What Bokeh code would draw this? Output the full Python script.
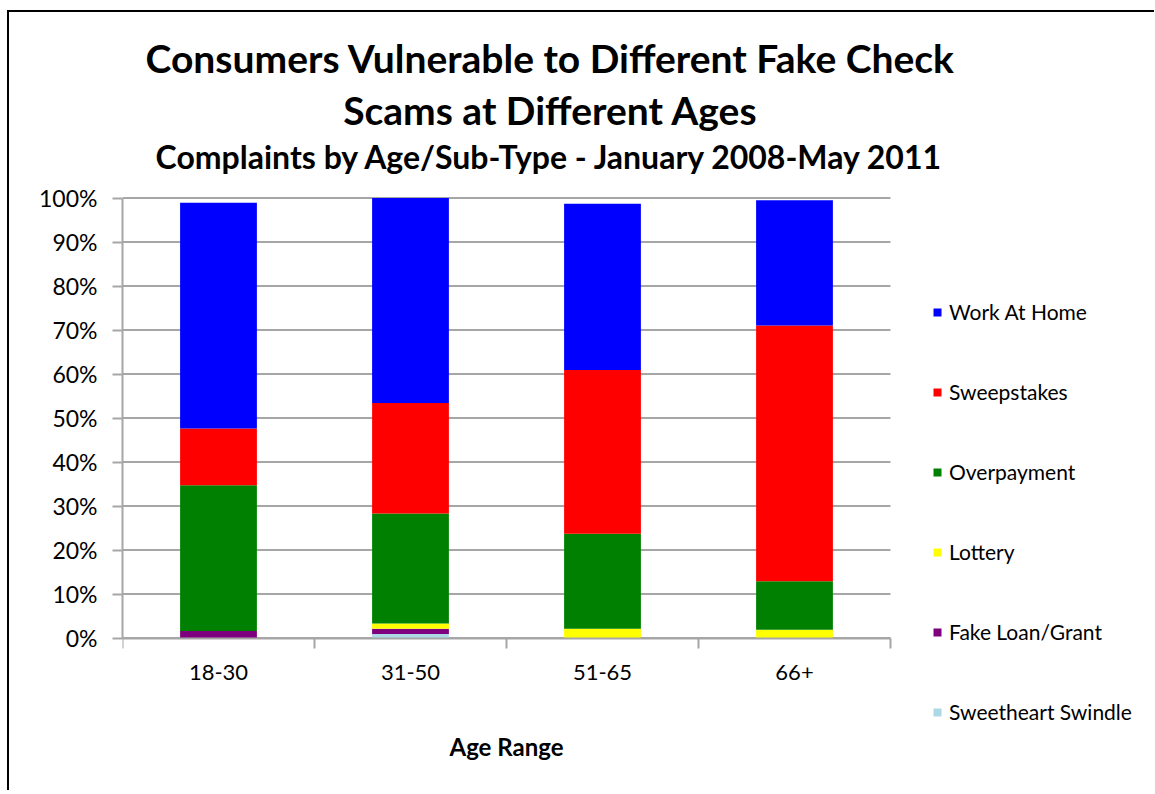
from bokeh.plotting import figure
from bokeh.models import Range1d, FixedTicker, Legend, LegendItem, Label, ColumnDataSource
from bokeh.embed import file_html
from bokeh.resources import INLINE

# ---- data ----
categories = ["18-30", "31-50", "51-65", "66+"]
series_names = ["Sweetheart Swindle", "Fake Loan/Grant", "Lottery",
                "Overpayment", "Sweepstakes", "Work At Home"]
sweetheart_swindle = [0.0, 0.9, 0.0, 0.0]
fake_loan_grant = [1.6, 1.2, 0.0, 0.0]
lottery = [0.0, 1.2, 2.1, 1.9]
overpayment = [33.1, 25.0, 21.6, 11.0]
sweepstakes = [12.9, 25.1, 37.2, 58.1]
work_at_home = [51.3, 46.6, 37.8, 28.5]
y_ticks = [0, 10, 20, 30, 40, 50, 60, 70, 80, 90, 100]
y_tick_labels = [f"{t}%" for t in y_ticks]

title_line1 = "Consumers Vulnerable to Different Fake Check"
title_line2 = "Scams at Different Ages"
subtitle = "Complaints by Age/Sub-Type - January 2008-May 2011"
x_label = "Age Range"

colors = ["#ADD8E6", "#7F007F", "#FFFF00", "#008000", "#FF0000", "#0000FF"]
FONT = "Lato"
grey = "#a6a6a6"

# ---- geometry (pixels) ----
PX_PER_CAT = 192.0      # width of one category slot
PX_PER_PCT = 4.4        # pixels per percentage point
FRAME_W, FRAME_H = 1018, 778
ZERO_FROM_TOP = 625.5   # 0% line measured from the frame top
n = len(categories)
x_end = FRAME_W / PX_PER_CAT
y_top = ZERO_FROM_TOP / PX_PER_PCT
y_bot = -(FRAME_H - ZERO_FROM_TOP) / PX_PER_PCT

keys = ["s0", "s1", "s2", "s3", "s4", "s5"]
x_pos = [i + 0.5 for i in range(n)]
source = ColumnDataSource(dict(
    x=x_pos,
    s0=sweetheart_swindle, s1=fake_loan_grant, s2=lottery,
    s3=overpayment, s4=sweepstakes, s5=work_at_home,
))

p = figure(frame_width=FRAME_W, frame_height=FRAME_H, title=None,
           output_backend="svg", toolbar_location=None,
           x_range=Range1d(0, x_end), y_range=Range1d(y_bot, y_top),
           min_border_left=113, min_border_right=14,
           min_border_top=0, min_border_bottom=0)
p.styles = {"margin-left": "7px", "margin-top": "10px",
            "border-left": "2px solid black", "border-top": "2px solid black"}
p.outline_line_color = None
p.background_fill_color = "white"
p.border_fill_color = "white"
p.xgrid.visible = False
p.ygrid.visible = False

# horizontal gridlines spanning the category area only
p.segment(x0=[0] * len(y_ticks), x1=[n] * len(y_ticks), y0=y_ticks, y1=y_ticks,
          line_color=grey, line_width=2)

renderers = p.vbar_stack(keys, x="x", width=0.4, source=source,
                         fill_color=colors, line_color=None)

# y axis
p.yaxis.bounds = (0, 100)
p.yaxis.ticker = FixedTicker(ticks=y_ticks)
p.yaxis.major_label_overrides = {t: l for t, l in zip(y_ticks, y_tick_labels)}
p.yaxis.axis_line_color = grey
p.yaxis.axis_line_width = 2
p.yaxis.major_tick_line_color = grey
p.yaxis.major_tick_line_width = 2
p.yaxis.major_tick_out = 10
p.yaxis.major_tick_in = 0
p.yaxis.minor_tick_line_color = None
p.yaxis.major_label_standoff = 15
p.yaxis.major_label_text_font = FONT
p.yaxis.major_label_text_font_size = "23px"
p.yaxis.major_label_text_color = "black"

# x axis drawn at 0%
p.xaxis.fixed_location = 0
p.xaxis.bounds = (0, n)
p.xaxis.ticker = FixedTicker(ticks=x_pos, minor_ticks=list(range(n + 1)))
p.xaxis.major_label_overrides = {x: c for x, c in zip(x_pos, categories)}
p.xaxis.axis_line_color = grey
p.xaxis.axis_line_width = 2
p.xaxis.major_tick_line_color = None
p.xaxis.major_tick_out = 0
p.xaxis.major_tick_in = 0
p.xaxis.minor_tick_line_color = grey
p.xaxis.minor_tick_line_width = 2
p.xaxis.minor_tick_out = 10
p.xaxis.minor_tick_in = 0
p.xaxis.major_label_standoff = 17
p.xaxis.major_label_text_font = FONT
p.xaxis.major_label_text_font_size = "22px"
p.xaxis.major_label_text_color = "black"
p.xaxis.axis_label = x_label
p.xaxis.axis_label_text_font = FONT
p.xaxis.axis_label_text_font_style = "bold"
p.xaxis.axis_label_text_font_size = "24px"
p.xaxis.axis_label_text_color = "black"
p.xaxis.axis_label_standoff = 48

# titles
title_cx = (550 - 122) / PX_PER_CAT
for txt, cy, size in [(title_line1, 57.5, "39px"),
                      (title_line2, 109.5, "39px"),
                      (subtitle, 156, "32px")]:
    p.add_layout(Label(x=title_cx, y=(637.5 - cy) / PX_PER_PCT, text=txt,
                       text_align="center", text_baseline="middle",
                       text_font=FONT, text_font_style="bold",
                       text_font_size=size, text_color="black"))

# legend
items = [LegendItem(label=nm, renderers=[r]) for nm, r in zip(series_names, renderers)][::-1]
legend = Legend(items=items, location=(810, 66), glyph_width=10, glyph_height=10,
                label_height=20, spacing=55, padding=0, margin=0,
                border_line_color=None, background_fill_alpha=0,
                label_text_font=FONT, label_text_font_size="21px",
                label_standoff=7, label_text_color="black")
p.add_layout(legend)

open("out.html", "w").write(file_html(p, INLINE))
